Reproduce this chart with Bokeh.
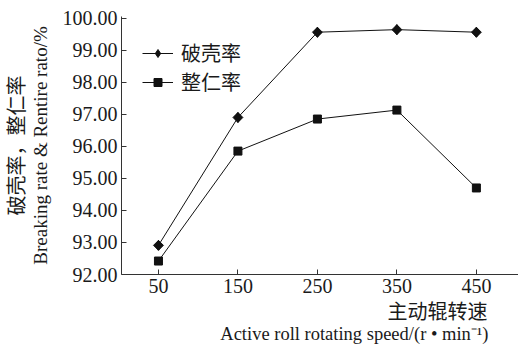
from bokeh.plotting import figure
from bokeh.models import Range1d, FixedTicker, Legend, LegendItem, Title
from bokeh.embed import file_html
from bokeh.resources import INLINE
from math import pi

speeds = [50, 150, 250, 350, 450]
breaking_rate = [92.91, 96.90, 99.56, 99.64, 99.56]
kernel_rate = [92.42, 95.85, 96.85, 97.13, 94.70]
y_ticks = [92, 93, 94, 95, 96, 97, 98, 99, 100]
y_tick_labels = {t: f"{t:.2f}" for t in y_ticks}
series_names = ["破壳率", "整仁率"]
y_label_cn = "破壳率，整仁率"
y_label_en = "Breaking rate & Rentire rato/%"
x_label_cn = "主动辊转速"
x_label_en = "Active roll rotating speed/(r • min⁻¹)"

SERIF = "Liberation Serif"
CJK = "Noto Sans CJK SC"
INK = "#1a1a1a"

p = figure(width=518, height=346, output_backend="svg", toolbar_location=None,
           x_range=Range1d(3.5, 503), y_range=Range1d(92, 100.05),
           min_border_left=121, min_border_right=0, min_border_top=16,
           min_border_bottom=72)
p.outline_line_color = None
p.grid.visible = False
p.background_fill_color = "white"
p.border_fill_color = "white"

for ax in (p.xaxis[0], p.yaxis[0]):
    ax.axis_line_color = "#333333"
    ax.major_tick_line_color = "#333333"
    ax.major_tick_in = 5
    ax.major_tick_out = 0
    ax.minor_tick_line_color = None
    ax.major_label_text_font = SERIF
    ax.major_label_text_font_size = "20px"
    ax.major_label_text_color = INK
    ax.major_label_standoff = 4

p.xaxis.ticker = FixedTicker(ticks=speeds)
p.yaxis.ticker = FixedTicker(ticks=y_ticks)
p.yaxis.major_label_overrides = y_tick_labels

p.yaxis.axis_label = y_label_en
p.yaxis.axis_label_text_font = SERIF
p.yaxis.axis_label_text_font_size = "19px"
p.yaxis.axis_label_text_font_style = "normal"
p.yaxis.axis_label_text_color = INK
p.yaxis.axis_label_standoff = 9

l1 = p.line(speeds, breaking_rate, line_color="#111111", line_width=1)
# diamond used as the legend swatch (legend swatches ignore marker angle); drawn beneath
m1_key = p.scatter(speeds, breaking_rate, marker="diamond", size=10,
                   fill_color="#111111", line_color="#111111")
m1 = p.scatter(speeds, breaking_rate, marker="square", angle=pi / 4, size=7,
               fill_color="#111111", line_color="#111111")
l2 = p.line(speeds, kernel_rate, line_color="#111111", line_width=1)
m2 = p.scatter(speeds, kernel_rate, marker="square", size=8, fill_color="#111111", line_color="#111111")

legend = Legend(items=[LegendItem(label=series_names[0], renderers=[l1, m1_key]),
                       LegendItem(label=series_names[1], renderers=[l2, m2])],
                location=(21, 178), padding=0, margin=0, spacing=0,
                glyph_width=31, glyph_height=20, label_standoff=8,
                label_text_font=CJK, label_text_font_size="20px", label_text_color=INK,
                background_fill_alpha=0, border_line_color=None)
p.add_layout(legend, "center")

p.add_layout(Title(text=y_label_cn, align="center", standoff=-6,
                   text_font=CJK, text_font_size="20px", text_font_style="normal",
                   text_color=INK), "left")
p.add_layout(Title(text=x_label_cn, align="right", offset=31, standoff=-3,
                   text_font=CJK, text_font_size="20px", text_font_style="normal",
                   text_color=INK), "below")
p.add_layout(Title(text=x_label_en, align="right", offset=30, standoff=-3,
                   text_font=SERIF, text_font_size="18.5px", text_font_style="normal",
                   text_color=INK), "below")

open("out.html", "w").write(file_html(p, INLINE))
